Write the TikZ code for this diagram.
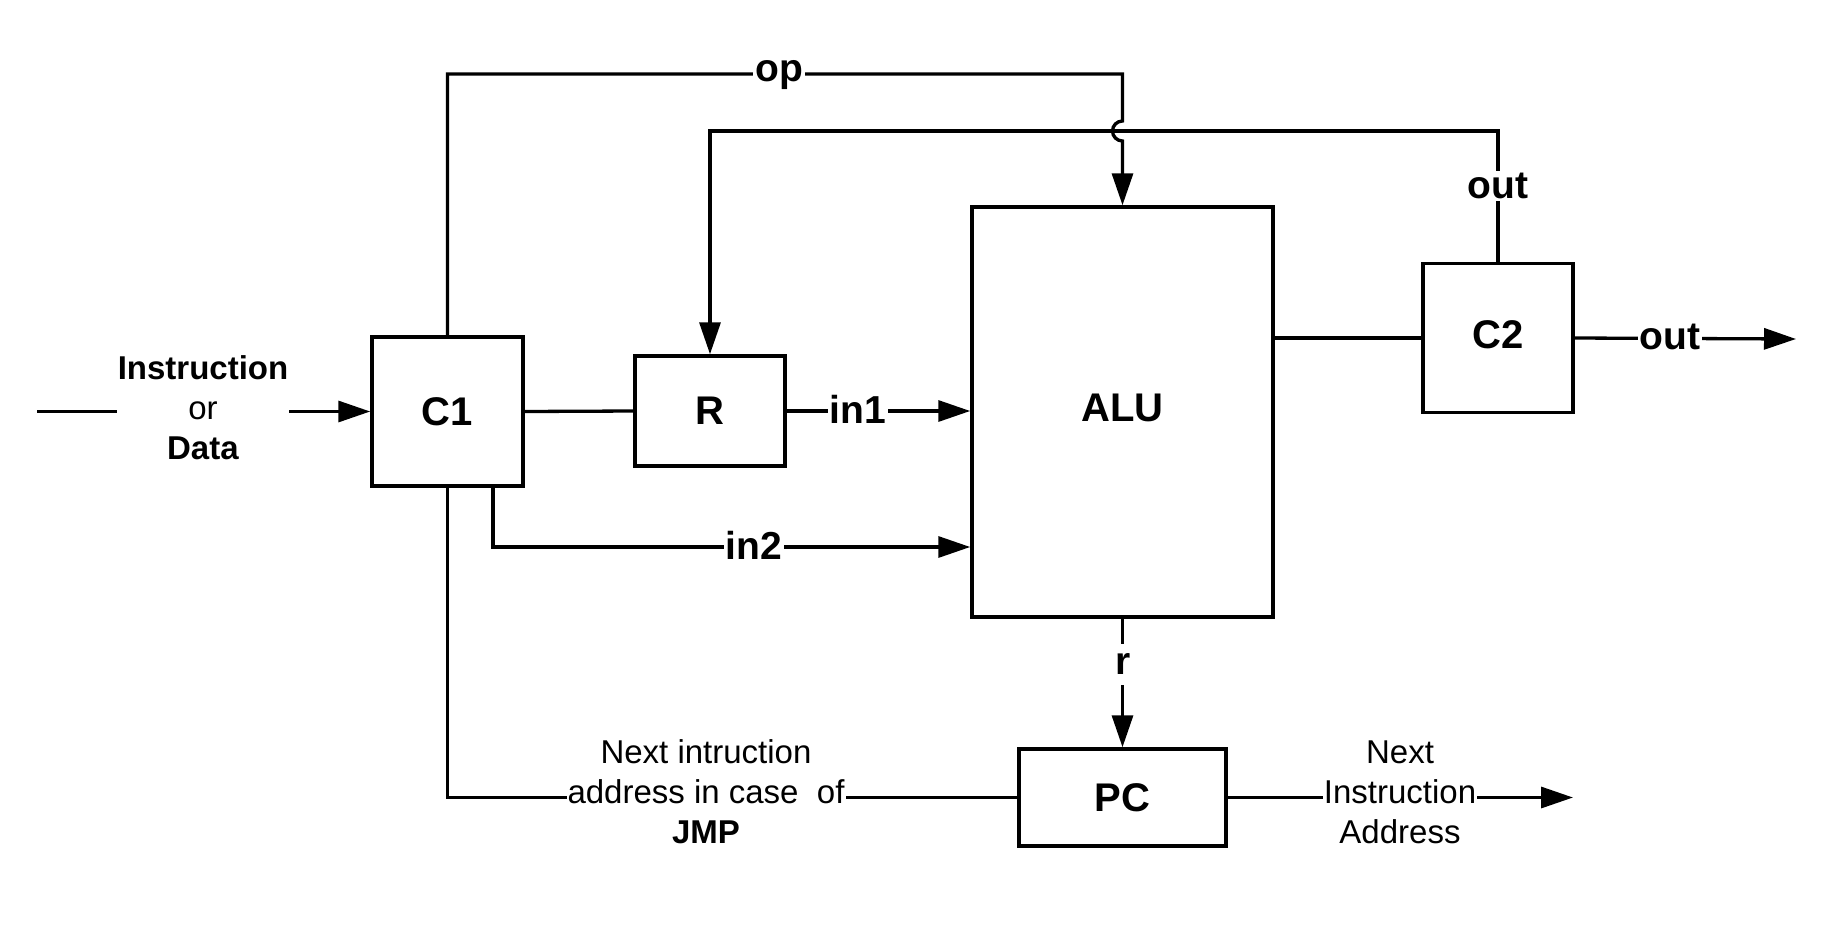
\documentclass[tikz,border=0pt]{standalone}
\usepackage{fontspec}
\setmainfont{Liberation Sans}
\usetikzlibrary{arrows.meta}
\begin{document}
\begin{tikzpicture}[x=1pt,y=-1pt,
  box/.style={draw, line width=3.5pt, inner sep=0pt, font=\fontsize{40}{48}\selectfont\bfseries},
  wire/.style={line width=3.3pt},
  arr/.style={wire, -{Triangle[length=32pt,width=21pt]}},
  elab/.style={fill=white, inner sep=2pt, font=\fontsize{39}{46}\selectfont\bfseries},
  tlab/.style={fill=white, inner xsep=1pt, inner ysep=2pt, align=center, font=\fontsize{33}{40}\selectfont}]
\useasboundingbox (0,0) rectangle (1824,943);
% boxes
\node[box, minimum width=151pt, minimum height=149pt] (c1) at (447.5,411.5) {C1};
\node[box, minimum width=150pt, minimum height=110pt] (r) at (710,411) {R};
\node[box, minimum width=301pt, minimum height=410pt] (alu) at (1122.5,412) {};
\node[font=\fontsize{40}{48}\selectfont\bfseries] (alutxt) at (1122.5,408) {ALU};
\node[box, minimum width=150pt, minimum height=149pt] (c2) at (1498,338) {};
\node[font=\fontsize{40}{48}\selectfont\bfseries] (c2txt) at (1498,335) {C2};
\node[box, minimum width=207pt, minimum height=97pt] (pc) at (1122.5,797.5) {PC};
% helper coordinates
\coordinate (inS) at (37,411.5);
\coordinate (opY) at (0,74);
\coordinate (fbY) at (0,131);
\coordinate (hopY) at (0,121);
\coordinate (in2s) at (493,486);
\coordinate (in2Y) at (0,547);
\coordinate (outE) at (1796,339);
\coordinate (pcE) at (1573,797.5);
% input
\draw[arr] (inS) -- (c1.west);
\node[tlab] (inlab) at (203,408) {\textbf{Instruction}\\or\\\textbf{Data}};
% feedback out -> R
\draw[arr] (c2.north) -- (c2.north |- fbY) -- (r.north |- fbY) -- (r.north);
\node[elab] (fblab) at (1498,186) {out};
% op line with hop
\draw[arr] (c1.north) -- (c1.north |- opY) -- (alu.north |- opY) -- (alu.north |- hopY)
  arc[start angle=270, end angle=90, radius=10] -- (alu.north);
\node[elab] (oplab) at (779,75) {op};
% C1 -> R
\draw[wire] (c1.east) -- (r.west);
% R -> ALU in1
\draw[arr] (r.east) -- (alu.west |- r.east);
\node[elab] (in1lab) at (858,409) {in1};
% in2
\draw[arr] (in2s) |- (alu.west |- in2Y);
\node[elab] (in2lab) at (754,545) {in2};
% ALU -> C2
\draw[wire] (alu.east |- c2.west) -- (c2.west);
% C2 -> out
\draw[arr] (c2.east) -- (outE);
\node[elab] (outlab) at (1670,337) {out};
% C1 -> PC
\draw[wire] (c1.south) |- (pc.west);
\node[tlab] (jmplab) at (706,792) {Next intruction\\address in case\ \ of\\\textbf{JMP}};
% ALU -> PC
\draw[arr] (alu.south) -- (pc.north);
\node[elab, inner ysep=10pt] (rlab) at (1123,664) {r};
% PC -> next
\draw[arr] (pc.east) -- (pcE);
\node[tlab] (nextlab) at (1400,792) {Next\\Instruction\\Address};
\end{tikzpicture}
\end{document}
